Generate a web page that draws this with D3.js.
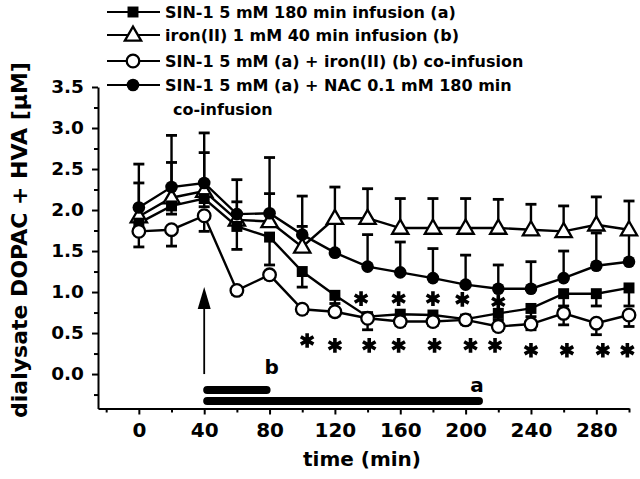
<!DOCTYPE html>
<html>
<head>
<meta charset="utf-8">
<script src="https://cdn.jsdelivr.net/npm/d3@7"></script>
<style>
  body { margin: 0; background: #fff; }
  text { font-family: "DejaVu Sans", sans-serif; font-weight: bold; fill: #000; }
</style>
</head>
<body>
<div id="chart"></div>
<script>
// sampling times (min)
const times = [0, 20, 40, 60, 80, 100, 120, 140, 160, 180, 200, 220, 240, 260, 280, 300];

// SIN-1 5 mM 180 min infusion (a)  -- filled squares
const sin1 = [1.84, 2.05, 2.14, 1.80, 1.67, 1.25, 0.96, 0.70, 0.73, 0.72, 0.67, 0.74, 0.80, 0.98, 0.98, 1.05];
const sin1Err = [0.10, 0.10, 0.10, 0.28, 0.34, 0.19, 0.10, 0.05, 0.05, 0.05, 0.05, 0.08, 0.10, 0.15, 0.15, 0.22];

// iron(II) 1 mM 40 min infusion (b)  -- open triangles
const iron = [1.92, 2.15, 2.23, 1.88, 1.86, 1.55, 1.90, 1.90, 1.78, 1.78, 1.78, 1.78, 1.76, 1.74, 1.82, 1.76];
const ironErr = [0.41, 0.43, 0.47, 0.22, 0.34, 0.25, 0.38, 0.36, 0.36, 0.36, 0.36, 0.35, 0.31, 0.31, 0.34, 0.35];

// SIN-1 (a) + iron(II) (b) co-infusion  -- open circles
const coIron = [1.74, 1.76, 1.93, 1.02, 1.21, 0.79, 0.76, 0.68, 0.64, 0.64, 0.66, 0.58, 0.61, 0.74, 0.62, 0.72];
const coIronErr = [0.19, 0.20, 0.19, 0.05, 0.05, 0.05, 0.05, 0.14, 0.05, 0.05, 0.05, 0.05, 0.07, 0.14, 0.14, 0.14];

// SIN-1 (a) + NAC 0.1 mM 180 min co-infusion  -- filled circles
const nac = [2.03, 2.28, 2.33, 1.95, 1.96, 1.70, 1.48, 1.31, 1.24, 1.17, 1.09, 1.04, 1.04, 1.17, 1.32, 1.37];
const nacErr = [0.53, 0.63, 0.61, 0.42, 0.68, 0.47, 0.38, 0.39, 0.37, 0.36, 0.36, 0.29, 0.33, 0.33, 0.40, 0.34];

// significance marks [time, level]
const starsUpper = [[136, 0.92], [159, 0.92], [180, 0.92], [198, 0.91], [220, 0.88]];
const starsLower = [[103, 0.41], [120, 0.35], [141, 0.35], [159, 0.35], [181, 0.35], [203, 0.35],
                    [218, 0.35], [240, 0.29], [262, 0.29], [284, 0.29], [299, 0.29]];

// infusion periods
const infusions = [{label: "b", start: 40, end: 80, row: 0}, {label: "a", start: 40, end: 210, row: 1}];

const xTicks = [0, 40, 80, 120, 160, 200, 240, 280];
const xMinor = [-20, 20, 60, 100, 140, 180, 220, 260, 300];
const yTicks = [0, 0.5, 1, 1.5, 2, 2.5, 3, 3.5];
const yMinor = [-0.25, 0.25, 0.75, 1.25, 1.75, 2.25, 2.75, 3.25];

const legendLabels = [
  "SIN-1 5 mM 180 min infusion (a)",
  "iron(II) 1 mM 40 min infusion (b)",
  "SIN-1 5 mM (a) + iron(II) (b) co-infusion",
  "SIN-1 5 mM (a) + NAC 0.1 mM 180 min"
];

const W = 640, H = 479;
const svg = d3.select("#chart").append("svg").attr("width", W).attr("height", H);

const x = d3.scaleLinear().domain([-25, 300]).range([98, 629]);
const y = d3.scaleLinear().domain([-0.42, 3.5]).range([408.5, 87]);

// axes
const gx = svg.append("g").attr("transform", "translate(0," + y(-0.42) + ")");
gx.call(d3.axisBottom(x).tickValues(xTicks).tickSize(6).tickSizeOuter(0).tickPadding(8));
gx.append("g").call(d3.axisBottom(x).tickValues(xMinor).tickSize(4).tickFormat(""))
  .select(".domain").remove();

const gy = svg.append("g").attr("transform", "translate(" + x(-25) + ",0)");
gy.call(d3.axisLeft(y).tickValues(yTicks).tickFormat(d3.format(".1f")).tickSize(6).tickSizeOuter(0).tickPadding(8));
gy.append("g").call(d3.axisLeft(y).tickValues(yMinor).tickSize(4).tickFormat(""))
  .select(".domain").remove();

svg.selectAll(".domain").attr("stroke-width", 2);
svg.selectAll(".tick line").attr("stroke-width", 2);
gx.selectAll(".tick text").style("font-size", "20px");
gy.selectAll(".tick text").style("font-size", "18.5px");

svg.append("text").attr("x", 362).attr("y", 466).attr("text-anchor", "middle")
  .style("font-size", "20px").text("time (min)");
svg.append("text").attr("transform", "translate(27,240) rotate(-90)").attr("text-anchor", "middle")
  .style("font-size", "22px").text("dialysate DOPAC + HVA [\u03bcM]");

// series
const series = [
  {vals: iron, err: ironErr, dir: 1, sym: "tri"},
  {vals: nac, err: nacErr, dir: 1, sym: "dot"},
  {vals: sin1, err: sin1Err, dir: -1, sym: "sq"},
  {vals: coIron, err: coIronErr, dir: -1, sym: "ring"}
];

const line = d3.line().x(d => x(d[0])).y(d => y(d[1]));

series.forEach(s => {
  const pts = times.map((t, i) => [t, s.vals[i], s.err[i]]);
  svg.append("path").datum(pts).attr("d", line)
    .attr("fill", "none").attr("stroke", "#000").attr("stroke-width", 2.4);
  const eb = svg.append("g");
  eb.selectAll("line.v").data(pts).enter().append("line")
    .attr("x1", d => x(d[0])).attr("x2", d => x(d[0]))
    .attr("y1", d => y(d[1])).attr("y2", d => y(d[1] + s.dir * d[2]))
    .attr("stroke", "#000").attr("stroke-width", 2.4);
  eb.selectAll("line.c").data(pts).enter().append("line")
    .attr("x1", d => x(d[0]) - 5.5).attr("x2", d => x(d[0]) + 5.5)
    .attr("y1", d => y(d[1] + s.dir * d[2])).attr("y2", d => y(d[1] + s.dir * d[2]))
    .attr("stroke", "#000").attr("stroke-width", 2.8);
  s.pts = pts;
});

function drawMarker(g, sym, cx, cy) {
  if (sym === "dot") {
    g.append("circle").attr("cx", cx).attr("cy", cy).attr("r", 6.3).attr("fill", "#000");
  } else if (sym === "ring") {
    g.append("circle").attr("cx", cx).attr("cy", cy).attr("r", 6.3).attr("fill", "#fff")
      .attr("stroke", "#000").attr("stroke-width", 2.3);
  } else if (sym === "sq") {
    g.append("path").attr("d", d3.symbol(d3.symbolSquare, 120)())
      .attr("transform", "translate(" + cx + "," + cy + ")").attr("fill", "#000");
  } else {
    g.append("path").attr("d", d3.symbol(d3.symbolTriangle, 115)())
      .attr("transform", "translate(" + cx + "," + (cy + 1) + ")").attr("fill", "#fff")
      .attr("stroke", "#000").attr("stroke-width", 2.3);
  }
}

series.forEach(s => {
  const g = svg.append("g");
  s.pts.forEach(d => drawMarker(g, s.sym, x(d[0]), y(d[1])));
});

// significance asterisks
const star = d3.symbol(d3.symbolAsterisk, 150);
svg.append("g").selectAll("path").data(starsUpper.concat(starsLower)).enter().append("path")
  .attr("d", star).attr("transform", d => "translate(" + x(d[0]) + "," + y(d[1]) + ")")
  .attr("fill", "none").attr("stroke", "#000").attr("stroke-width", 3.6);

// arrow at start of infusion
const ax = x(40);
svg.append("line").attr("x1", ax).attr("x2", ax).attr("y1", y(0)).attr("y2", y(0.95))
  .attr("stroke", "#000").attr("stroke-width", 1.8);
svg.append("path")
  .attr("d", "M" + ax + "," + y(1.06) + "L" + (ax - 6.5) + "," + (y(1.06) + 22) + "L" + (ax + 6.5) + "," + (y(1.06) + 22) + "Z")
  .attr("fill", "#000");

// infusion bars
const barY = [390, 401];
infusions.forEach(b => {
  svg.append("line").attr("x1", x(b.start) + 3).attr("x2", x(b.end) - 3)
    .attr("y1", barY[b.row]).attr("y2", barY[b.row])
    .attr("stroke", "#000").attr("stroke-width", 8).attr("stroke-linecap", "round");
});
svg.append("text").attr("x", x(80) + 2).attr("y", 374).attr("text-anchor", "middle")
  .style("font-size", "20px").text(infusions[0].label);
svg.append("text").attr("x", x(207)).attr("y", 392).attr("text-anchor", "middle")
  .style("font-size", "20px").text(infusions[1].label);

// legend
const legY = [12, 35, 61, 85];
const legSym = ["sq", "tri", "ring", "dot"];
const leg = svg.append("g");
legendLabels.forEach((lab, i) => {
  leg.append("line").attr("x1", 107).attr("x2", 160).attr("y1", legY[i]).attr("y2", legY[i])
    .attr("stroke", "#000").attr("stroke-width", 2.2);
  drawMarker(leg, legSym[i], 133, legY[i]);
  leg.append("text").attr("x", 165).attr("y", legY[i] + 6).style("font-size", "16px").text(lab);
});
leg.append("text").attr("x", 173).attr("y", 115).style("font-size", "16px").text("co-infusion");
</script>
</body>
</html>
